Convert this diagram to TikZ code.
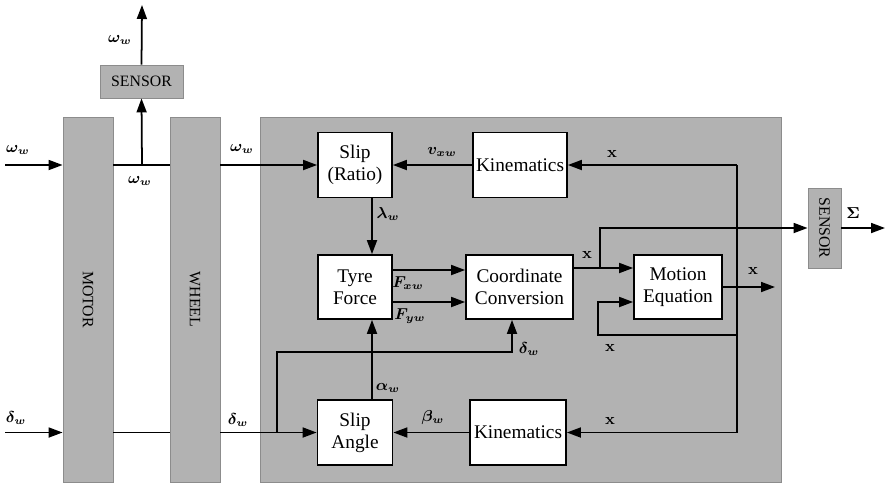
\documentclass[tikz,border=0pt]{standalone}
\usepackage{fontspec}
\setmainfont{Liberation Serif}
\usetikzlibrary{arrows.meta,positioning}
\definecolor{scanGray}{HTML}{B2B2B2}
\definecolor{scanEdge}{HTML}{8C8C8C}
\tikzset{
  unit/.style={draw=scanEdge, fill=scanGray, line width=0.5pt, inner sep=0pt,
        font=\fontsize{9}{10}\selectfont},
  blk/.style={draw=black, fill=white, line width=1pt, align=center,
        inner sep=1pt, font=\fontsize{11}{12.5}\selectfont},
  sig/.style={line width=1pt, draw=black},
  arr/.style={sig, -{Triangle[length=2.8mm, width=2mm]}},
  lbl/.style={font=\small\boldmath, inner sep=0.5pt}
}

\begin{document}
\begin{tikzpicture}[x=0.02cm, y=-0.02cm]
\useasboundingbox (0,0) rectangle (885,487);
% shaded units
\node[unit, minimum width=10.42cm, minimum height=7.3cm] (panel) at (520.5,299.5) {};
\node[unit, minimum width=1cm, minimum height=7.3cm] (motor) at (88,299.5) {\rotatebox{-90}{MOTOR}};
\node[unit, minimum width=1cm, minimum height=7.3cm] (wheel) at (195,299.5) {\rotatebox{-90}{WHEEL}};
\node[unit, minimum width=1.66cm, minimum height=0.66cm] (senstop) at (141.5,81.5) {SENSOR};
\node[unit, minimum width=0.66cm, minimum height=1.6cm] (sensright) at (824.5,228) {\rotatebox{-90}{SENSOR}};

% blocks
\node[blk, minimum width=1.48cm, minimum height=1.3cm] (slipr) at (355,165) {Slip\\(Ratio)};
\node[blk, minimum width=1.88cm, minimum height=1.3cm] (kintop) at (520,165) {Kinematics};
\node[blk, minimum width=1.48cm, minimum height=1.28cm] (tyre) at (355,287) {Tyre\\Force};
\node[blk, minimum width=2.14cm, minimum height=1.28cm] (conv) at (519.5,287) {Coordinate\\Conversion};
\node[blk, minimum width=1.76cm, minimum height=1.28cm] (motion) at (678,287) {Motion\\Equation};
\node[blk, minimum width=1.5cm, minimum height=1.3cm] (slipa) at (355,432.5) {Slip\\Angle};
\node[blk, minimum width=1.92cm, minimum height=1.3cm] (kinbot) at (518,432.5) {Kinematics};

% free ends and junctions
\coordinate (win) at (5,165);
\coordinate (din) at (5,432.5);
\coordinate (wtap) at (142,165);
\coordinate (wout) at (142,5);
\coordinate (dtap) at (277,432.5);
\coordinate (dcorner) at (512,352);
\coordinate (xtap) at (600,268);
\coordinate (xout) at (775,287);
\coordinate (fbtop) at (737,165);
\coordinate (fbbot) at (737,432.5);
\coordinate (loopr) at (737,335);
\coordinate (loopl) at (598,335);

% wheel speed path
\draw[arr] (win) -- (win -| motor.west);
\draw[sig] (motor.east |- win) -- (wheel.west |- win);
\draw[arr] (wtap) -- (senstop.south);
\draw[arr] (senstop.north) -- (wout);
\draw[arr] (wheel.east |- win) -- (slipr.west);
\draw[arr] (kintop.west) -- (slipr.east);
\draw[arr] ([xshift=0.34cm]slipr.south) -- ([xshift=0.34cm]tyre.north);
\draw[arr] ([yshift=0.34cm]tyre.east) -- ([yshift=0.34cm]tyre.east -| conv.west);
\draw[arr] ([yshift=-0.3cm]tyre.east) -- ([yshift=-0.3cm]tyre.east -| conv.west);
\draw[arr] (xtap -| conv.east) -- (xtap -| motion.west);
\draw[arr] (xtap) |- (sensright.west);
\draw[arr] (sensright.east) -- (sensright.east -| 885,0);
\draw[arr] (motion.east) -- (xout);
\draw[arr] (loopr) -- (loopl) |- ([yshift=-0.3cm]motion.west);
\draw[arr] (fbtop) -- (kintop.east);
\draw[sig] (fbtop) -- (fbbot);
\draw[arr] (fbbot) -- (kinbot.east);

% steering path
\draw[arr] (din) -- (din -| motor.west);
\draw[sig] (motor.east |- din) -- (wheel.west |- din);
\draw[arr] (wheel.east |- din) -- (slipa.west);
\draw[arr] (dtap) |- (dcorner) -- (dcorner |- conv.south);
\draw[arr] (kinbot.west) -- (slipa.east);
\draw[arr] ([xshift=0.34cm]slipa.north) -- ([xshift=0.34cm]tyre.south);

% labels
\node[lbl] at (120,40) {$\omega_w$};
\node[lbl] at (18,150) {$\omega_w$};
\node[lbl] at (140,181) {$\omega_w$};
\node[lbl] at (242,149) {$\omega_w$};
\node[lbl] at (442,152) {$v_{xw}$};
\node[lbl] at (612,154) {$\mathbf{x}$};
\node[lbl] at (388,214) {$\lambda_w$};
\node[lbl] at (408,283) {$F_{xw}$};
\node[lbl] at (410,316) {$F_{yw}$};
\node[lbl] at (587,255) {$\mathbf{x}$};
\node[lbl] at (853,213) {$\Sigma$};
\node[lbl] at (753,271) {$\mathbf{x}$};
\node[lbl] at (610,348) {$\mathbf{x}$};
\node[lbl] at (529,349) {$\delta_w$};
\node[lbl] at (388,388) {$\alpha_w$};
\node[lbl] at (16,418) {$\delta_w$};
\node[lbl] at (238,420) {$\delta_w$};
\node[lbl] at (433,418) {$\beta_w$};
\node[lbl] at (610,421) {$\mathbf{x}$};
\end{tikzpicture}
\end{document}
